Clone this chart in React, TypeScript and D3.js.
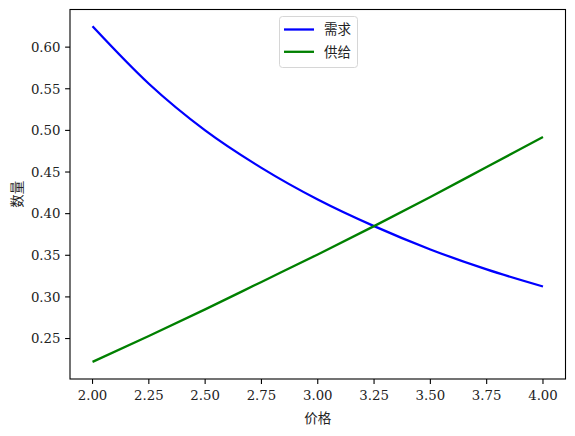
import React from "react";
import * as d3 from "d3";

// 价格 (x) 与 需求/供给 (y)，从图上读取的取样点
const prices = [2.0, 2.25, 2.5, 2.75, 3.0, 3.25, 3.5, 3.75, 4.0];
const demand = [0.625, 0.556, 0.5, 0.455, 0.417, 0.385, 0.357, 0.333, 0.3125];
const supply = [0.222, 0.253, 0.285, 0.318, 0.351, 0.385, 0.42, 0.456, 0.492];

const xTicks = [2.0, 2.25, 2.5, 2.75, 3.0, 3.25, 3.5, 3.75, 4.0];
const yTicks = [0.25, 0.3, 0.35, 0.4, 0.45, 0.5, 0.55, 0.6];

const seriesNames = ["需求", "供给"];
const seriesColors = ["#0000ff", "#008000"];

const W = 575;
const H = 436;
const margin = { left: 70, right: 9.5, top: 9.5, bottom: 57 };

const tickFont = "'DejaVu Serif', serif";
const cjkFont = "'Noto Sans CJK SC', sans-serif";

export default function App() {
  const x = d3
    .scaleLinear()
    .domain([1.9, 4.1])
    .range([margin.left, W - margin.right]);
  const y = d3
    .scaleLinear()
    .domain([0.2014, 0.6452])
    .range([H - margin.bottom, margin.top]);

  const line = d3
    .line<[number, number]>()
    .x((d) => x(d[0]))
    .y((d) => y(d[1]))
    .curve(d3.curveMonotoneX);

  const series = [demand, supply].map((vals) =>
    prices.map((p, i) => [p, vals[i]] as [number, number])
  );

  const x0 = margin.left;
  const x1 = W - margin.right;
  const y0 = H - margin.bottom;
  const y1 = margin.top;

  return (
    <svg
      width={W}
      height={H}
      style={{ position: "absolute", left: 0, top: 0, background: "#fff" }}
    >
      {/* 曲线 */}
      {series.map((s, i) => (
        <path
          key={i}
          d={line(s) || ""}
          fill="none"
          stroke={seriesColors[i]}
          strokeWidth={2.3}
        />
      ))}

      {/* 坐标框 */}
      <rect
        x={x0}
        y={y1}
        width={x1 - x0}
        height={y0 - y1}
        fill="none"
        stroke="#000"
        strokeWidth={1.1}
      />

      {/* x 轴刻度 */}
      {xTicks.map((t) => (
        <g key={t} transform={`translate(${x(t)},${y0})`}>
          <line y2={4.9} stroke="#000" strokeWidth={1.1} />
          <text
            y={21}
            textAnchor="middle"
            fontFamily={tickFont}
            fontSize={13.3}
            fill="#222"
          >
            {t.toFixed(2)}
          </text>
        </g>
      ))}

      {/* y 轴刻度 */}
      {yTicks.map((t) => (
        <g key={t} transform={`translate(${x0},${y(t)})`}>
          <line x2={-4.9} stroke="#000" strokeWidth={1.1} />
          <text
            x={-9.5}
            dy="0.36em"
            textAnchor="end"
            fontFamily={tickFont}
            fontSize={13.3}
            fill="#222"
          >
            {t.toFixed(2)}
          </text>
        </g>
      ))}

      {/* 轴标题 */}
      <text
        x={(x0 + x1) / 2}
        y={423}
        textAnchor="middle"
        fontFamily={cjkFont}
        fontSize={13.5}
        fill="#222"
      >
        价格
      </text>
      <text
        transform={`translate(22,${(y0 + y1) / 2}) rotate(-90)`}
        textAnchor="middle"
        fontFamily={cjkFont}
        fontSize={13.5}
        fill="#222"
      >
        数量
      </text>

      {/* 图例 */}
      <g transform="translate(279,16)">
        <rect
          x={0.5}
          y={0.5}
          width={78}
          height={51}
          rx={3}
          fill="#fff"
          fillOpacity={0.8}
          stroke="#d6d6d6"
          strokeWidth={1}
        />
        {seriesNames.map((name, i) => (
          <g key={name} transform={`translate(0,${13.5 + i * 22.3})`}>
            <line
              x1={5}
              x2={35}
              stroke={seriesColors[i]}
              strokeWidth={2.3}
            />
            <text
              x={45}
              dy="0.36em"
              fontFamily={cjkFont}
              fontSize={13.5}
              fill="#222"
            >
              {name}
            </text>
          </g>
        ))}
      </g>
    </svg>
  );
}
